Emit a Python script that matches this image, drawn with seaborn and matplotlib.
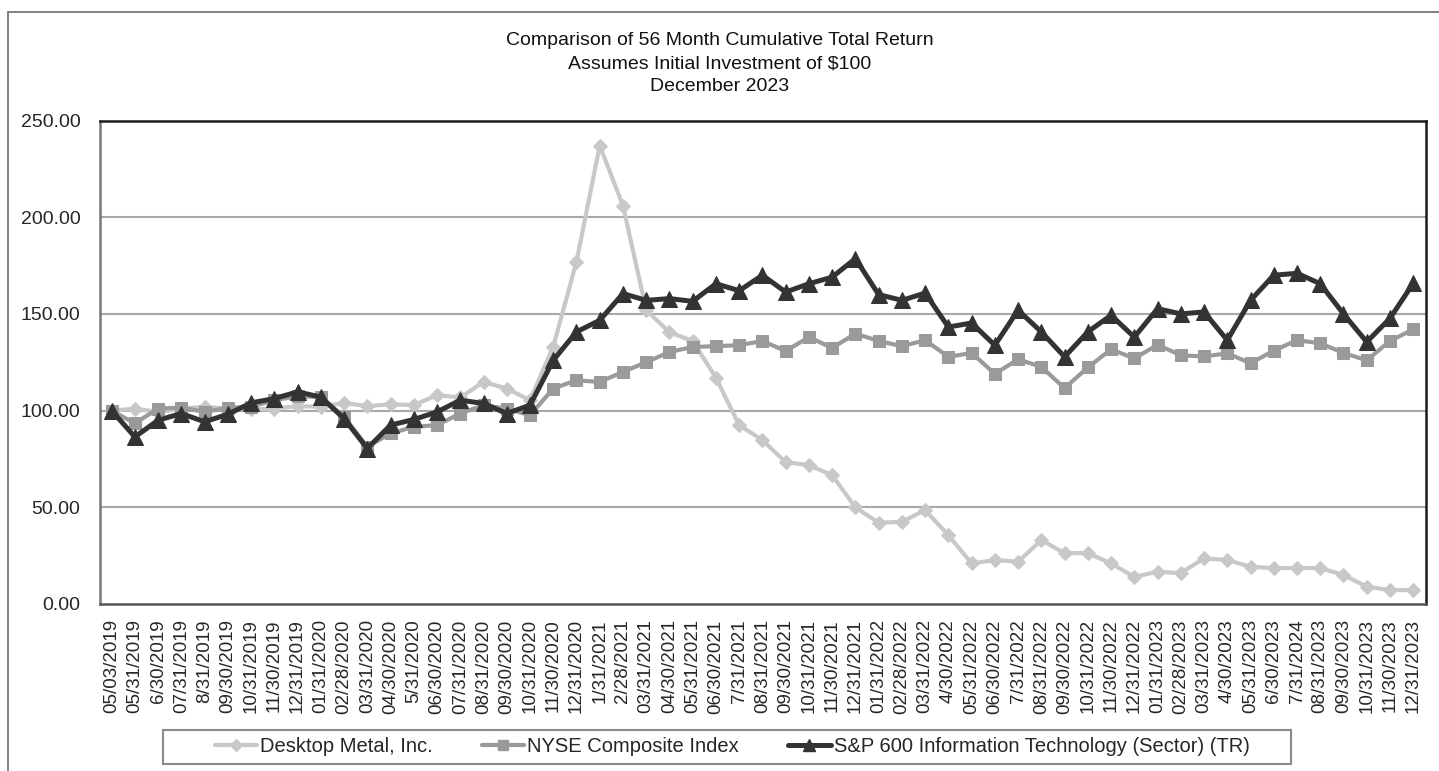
import matplotlib
matplotlib.use("Agg")
import matplotlib.pyplot as plt
import seaborn as sns
import numpy as np
from matplotlib.lines import Line2D
from matplotlib.patches import Rectangle

dates = ["05/03/2019", "05/31/2019", "6/30/2019", "07/31/2019", "8/31/2019", "09/30/2019",
         "10/31/2019", "11/30/2019", "12/31/2019", "01/31/2020", "02/28/2020", "03/31/2020",
         "04/30/2020", "5/31/2020", "06/30/2020", "07/31/2020", "08/31/2020", "09/30/2020",
         "10/31/2020", "11/30/2020", "12/31/2020", "1/31/2021", "2/28/2021", "03/31/2021",
         "04/30/2021", "05/31/2021", "06/30/2021", "7/31/2021", "08/31/2021", "09/30/2021",
         "10/31/2021", "11/30/2021", "12/31/2021", "01/31/2022", "02/28/2022", "03/31/2022",
         "4/30/2022", "05/31/2022", "06/30/2022", "7/31/2022", "08/31/2022", "09/30/2022",
         "10/31/2022", "11/30/2022", "12/31/2022", "01/31/2023", "02/28/2023", "03/31/2023",
         "4/30/2023", "05/31/2023", "6/30/2023", "7/31/2024", "08/31/2023", "09/30/2023",
         "10/31/2023", "11/30/2023", "12/31/2023"]

desktop_metal = [100, 101, 99.3, 101, 102, 101, 100.6, 101, 102.3, 102, 104, 102.3, 103.3, 102.8,
                 108, 106.8, 114.8, 111.4, 105.4, 133, 177, 237, 206, 152, 140.5, 136, 117, 92.5,
                 84.7, 73.3, 71.8, 66.6, 50, 42, 42.5, 48.5, 35.6, 21, 22.7, 21.9, 33, 26.3, 26.3,
                 21, 14, 16.7, 16, 23.6, 22.7, 19.3, 18.6, 18.6, 18.6, 15, 9, 7.2, 7.2]

nyse = [100, 93.4, 101, 101.6, 99.3, 101.4, 102, 105.4, 107.4, 107, 96.8, 81.3, 88.2, 91.6, 92.5,
        98.5, 102.8, 101, 97.6, 111.4, 115.7, 114.8, 120, 125, 130.3, 132.9, 133.3, 133.8, 136,
        130.8, 138, 132.4, 139.8, 136, 133.3, 136.4, 127.8, 129.8, 119, 126.5, 122.6, 111.6,
        122.3, 131.7, 127, 134, 128.6, 128, 129.6, 124.5, 131, 136.4, 134.8, 129.8, 126, 136, 142]

sp600_it = [100, 86.4, 95, 98.5, 94.2, 98.1, 104, 106.2, 109.7, 107, 95.9, 80.4, 92.5, 95.4, 99.3,
            105.4, 103.7, 98.5, 102.8, 126, 140.7, 146.7, 160.5, 157, 157.9, 156.5, 165.6, 162,
            170, 161.3, 165.6, 169, 178.6, 160, 157, 160.8, 143.2, 145.3, 133.8, 151.9, 140.7,
            127.8, 140.7, 149.3, 138, 152.7, 150, 151, 136.4, 157, 170, 171, 165.6, 150, 135.5,
            147.7, 165.8]

series_names = ["Desktop Metal, Inc.", "NYSE Composite Index",
                "S&P 600 Information Technology (Sector) (TR)"]
y_ticks = [0, 50, 100, 150, 200, 250]

sns.set_style("white")
plt.rcParams['font.family'] = ['Liberation Sans', 'DejaVu Sans']

W, H = 1439, 771
fig = plt.figure(figsize=(W / 100, H / 100), dpi=100)
ax = fig.add_axes([100 / W, 1 - 604 / H, (1426 - 100) / W, (604 - 120.5) / H])

x = np.arange(len(dates))
styles = [
    (desktop_metal, "#c8c8c8", "D", 7.5, 3.0),
    (nyse, "#9a9a9a", "s", 9, 3.0),
    (sp600_it, "#333333", "^", 11, 3.6),
]
handles = []
for (vals, col, mk, ms, lw), name in zip(styles, series_names):
    sns.lineplot(x=x, y=vals, ax=ax, color=col, marker=mk, markersize=ms,
                 markeredgecolor=col, markerfacecolor=col, linewidth=lw, legend=False)
    handles.append(Line2D([], [], color=col, marker=mk, markersize=ms * 0.75,
                          markeredgecolor=col, markerfacecolor=col, linewidth=lw, label=name))

ax.set_xlim(-0.5, len(dates) - 0.45)
ax.set_ylim(0, 250)
ax.set_yticks(y_ticks)
ax.set_yticklabels([f"{v:.2f}" for v in y_ticks], fontsize=14)
ax.set_xticks(x)
ax.set_xticklabels(dates, rotation=90, fontsize=13.5)
ax.tick_params(axis='y', direction='out', length=4, width=1, color='#888888', pad=10)
ax.tick_params(axis='x', direction='in', length=3, width=0.8, color='#888888', pad=11)
for v in y_ticks[1:-1]:
    ax.axhline(v, color='#a8a8a8', linewidth=1.5, zorder=0)
ax.set_xlabel("")
ax.set_ylabel("")

ax.spines['left'].set_color('#777777')
ax.spines['bottom'].set_color('#555555')
ax.spines['top'].set_color('#1a1a1a')
ax.spines['right'].set_color('#1a1a1a')
for s in ax.spines.values():
    s.set_linewidth(1.8)
    s.set_visible(True)

fig.text(0.5, 1 - 32 / H,
         "Comparison of 56 Month Cumulative Total Return\nAssumes Initial Investment of $100\nDecember 2023",
         ha='center', va='top', fontsize=14, linespacing=1.48, color='#111111')

leg = ax.legend(handles=handles, loc='center', ncol=3,
                bbox_to_anchor=(732 / W, 1 - 747 / H), bbox_transform=fig.transFigure,
                fontsize=14.5, frameon=False,
                handlelength=2.1, handletextpad=0.15, columnspacing=2.45,
                borderpad=0.2)

# legend box
fig.add_artist(Rectangle((163 / W, 1 - 764 / H), (1291 - 163) / W, 34 / H,
                         transform=fig.transFigure, fill=False,
                         edgecolor='#8a8a8a', linewidth=1.5))

# outer figure frame (top and left)
fig.add_artist(Line2D([8 / W, 8 / W], [0, 1 - 12 / H], transform=fig.transFigure,
                      color='#777777', linewidth=1.3))
fig.add_artist(Line2D([8 / W, 1], [1 - 12 / H, 1 - 12 / H], transform=fig.transFigure,
                      color='#777777', linewidth=1.3))

fig.savefig("out.png", dpi=100, facecolor='white')
